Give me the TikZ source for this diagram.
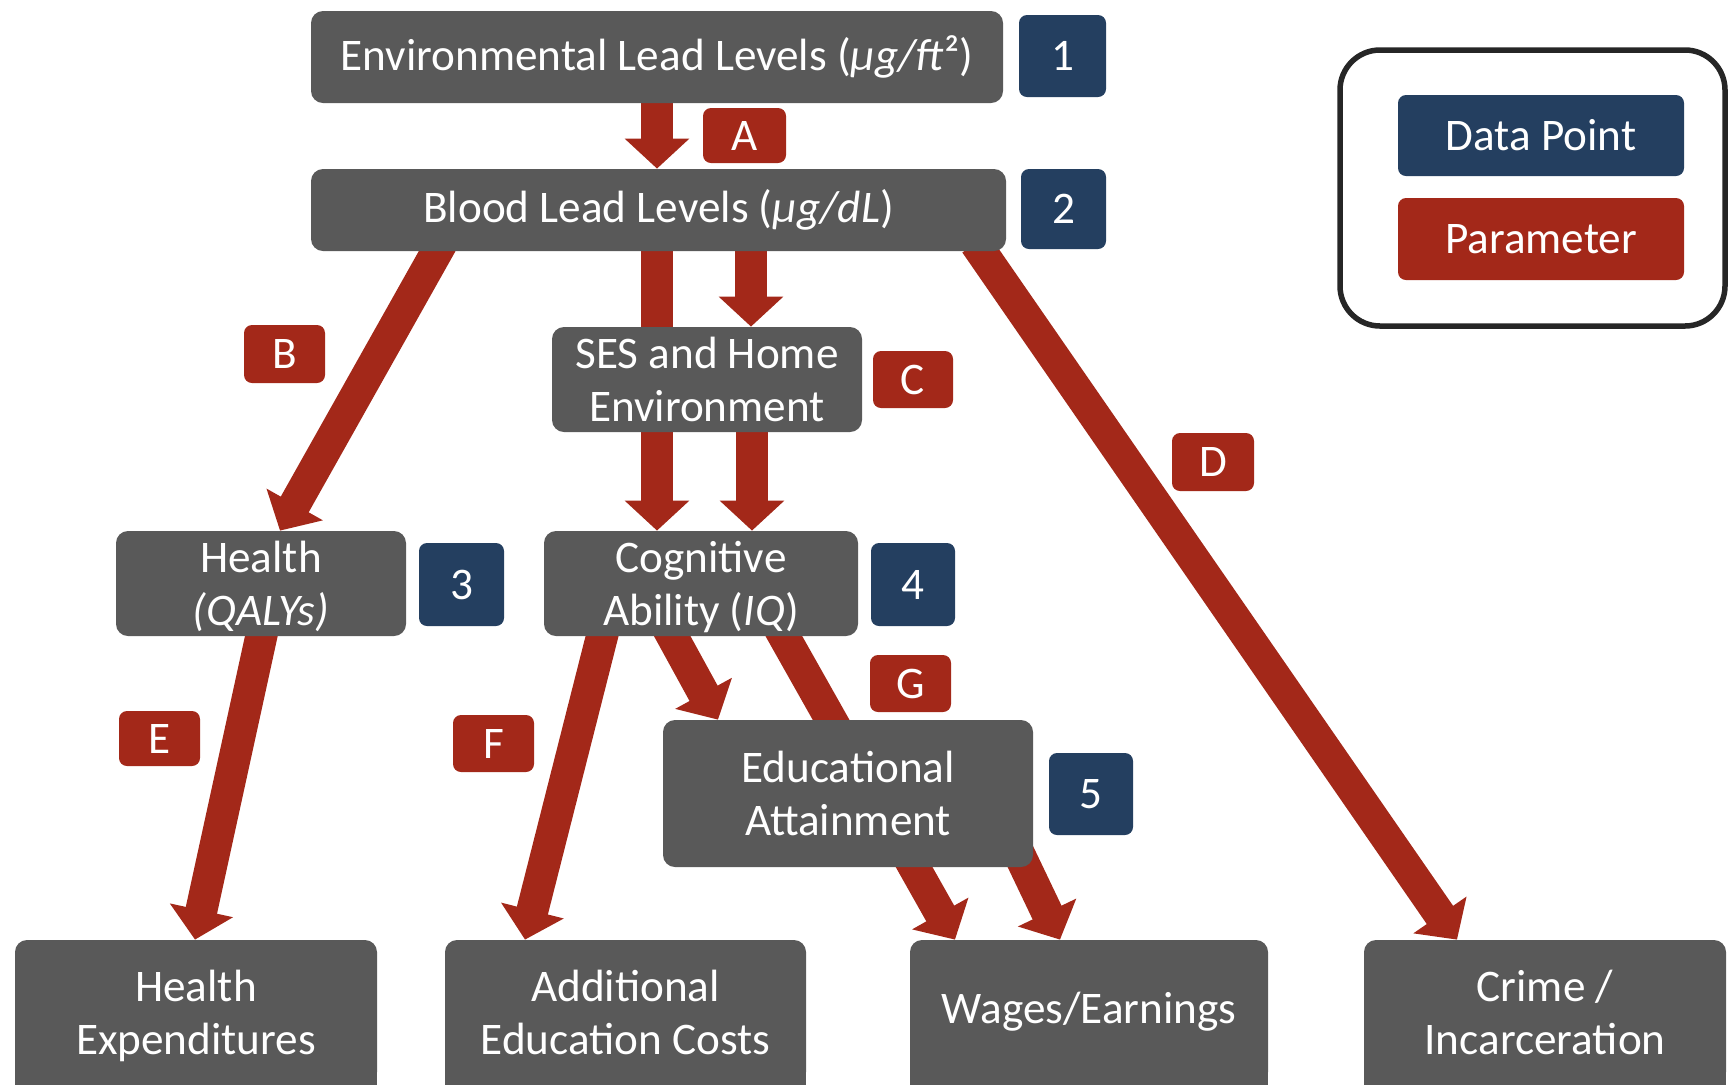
\documentclass[tikz,border=0pt]{standalone}
\usepackage{fontspec}
\setmainfont{Carlito}
\usepackage{tikz}
\usetikzlibrary{arrows.meta,calc,backgrounds}
\definecolor{boxgrey}{HTML}{595959}
\definecolor{datablue}{HTML}{243F60}
\definecolor{parred}{HTML}{A32819}

\begin{document}
\begin{tikzpicture}[
  x=0.5pt, y=-0.5pt,
  every node/.style={text=white, font=\fontsize{22.6}{26.5}\selectfont, align=center, inner sep=0pt},
  outcome/.style={fill=boxgrey, rounded corners=6pt},
  datapt/.style={fill=datablue, rounded corners=4pt},
  param/.style={fill=parred, rounded corners=4pt},
  bigarrow/.style={draw=parred, line width=16pt, -{Triangle[width=31.5pt,length=15pt]}}
]
\useasboundingbox (0,0) rectangle (1729,1084);

% main boxes
\node[outcome, minimum width=346pt, minimum height=46pt] (env) at (657,57) {Environmental Lead Levels (\textit{μg/ft}²)};
\node[outcome, minimum width=347.5pt, minimum height=41pt] (blood) at (658.5,210) {Blood Lead Levels (\textit{μg/dL})};
\node[outcome, minimum width=155pt, minimum height=52.5pt] (ses) at (707,379.5) {SES and Home\\Environment};
\node[outcome, minimum width=145pt, minimum height=52.5pt] (health) at (261,583.5) {Health\\\smash{\textit{(QALYs)}}};
\node[outcome, minimum width=157pt, minimum height=52.5pt] (cog) at (701,583.5) {Cognitive\\\smash{Ability (\textit{IQ})}};
\node[outcome, minimum width=185pt, minimum height=73.5pt] (edu) at (848,793.5) {Educational\\Attainment};
\node[outcome, minimum width=181pt, minimum height=72pt] (hexp) at (196,1012) {Health\\\smash{Expenditures}};
\node[outcome, minimum width=180.5pt, minimum height=72pt] (added) at (625.5,1012) {Additional\\Education Costs};
\node[outcome, minimum width=179pt, minimum height=72pt] (wages) at (1089,1012) {Wages/Earnings};
\node[outcome, minimum width=181pt, minimum height=72pt] (crime) at (1545,1012) {Crime /\\Incarceration};

% data points
\node[datapt, minimum width=43.5pt, minimum height=41pt] (d1) at (1062.5,56) {1};
\node[datapt, minimum width=42.5pt, minimum height=40pt] (d2) at (1063.5,209) {2};
\node[datapt, minimum width=42.5pt, minimum height=41.5pt] (d3) at (461.5,584.5) {3};
\node[datapt, minimum width=42pt, minimum height=41.5pt] (d4) at (913,584.5) {4};
\node[datapt, minimum width=42pt, minimum height=41pt] (d5) at (1091,794) {5};

% parameters
\node[param, minimum width=41.5pt, minimum height=27.5pt] (pA) at (744.5,135.5) {A};
\node[param, minimum width=40.5pt, minimum height=29pt] (pB) at (284.5,354) {B};
\node[param, minimum width=40pt, minimum height=28.5pt] (pC) at (913,379.5) {C};
\node[param, minimum width=41pt, minimum height=29pt] (pD) at (1213,462) {D};
\node[param, minimum width=40.5pt, minimum height=27.5pt] (pE) at (159.5,738.5) {E};
\node[param, minimum width=40.5pt, minimum height=28.5pt] (pF) at (493.5,743.5) {F};
\node[param, minimum width=40.5pt, minimum height=28.5pt] (pG) at (910.5,683.5) {G};

% legend
\node[draw=black!85, line width=2.75pt, rounded corners=20pt, minimum width=192.5pt, minimum height=138pt] (legend) at (1532.5,188) {};
\node[datapt, minimum width=143pt, minimum height=40.5pt] (legdata) at (1541,135.5) {Data Point};
\node[param, minimum width=143pt, minimum height=41pt] (legpar) at (1541,239) {Parameter};

\begin{scope}[on background layer]
  \foreach \n in {hexp,added,wages,crime}
    \fill[boxgrey] (\n.west) rectangle ($(\n.south east)+(0,40)$);
  \draw[bigarrow] ($(env.south)+(0,-8)$) -- (env.south |- blood.north);
  \draw[bigarrow] ($(blood.south)+(-217,-8)$) -- ($(health.north)+(19,0)$);
  \draw[bigarrow] ($(blood.south)+(-1.5,-8)$) -- ($(cog.north)+(-44,0)$);
  \draw[bigarrow] ($(blood.south)+(92.5,-8)$) -- ($(ses.north)+(44,0)$);
  \draw[bigarrow] ($(ses.south)+(45,-8)$) -- ($(cog.north)+(51,0)$);
  \draw[bigarrow] ($(blood.south)+(317,-8)$) -- ($(crime.north)+(-88,0)$);
  \draw[bigarrow] ($(health.south)+(2,-8)$) -- ($(hexp.north)+(-1,0)$);
  \draw[bigarrow] ($(cog.south)+(-97,-8)$) -- ($(added.north)+(-100.5,0)$);
  \draw[bigarrow] ($(cog.south)+(-33,-8)$) -- ($(edu.north)+(-130,0)$);
  \draw[bigarrow] ($(cog.south)+(78.5,-8)$) -- ($(wages.north)+(-134,0)$);
  \draw[bigarrow] ($(edu.south)+(167,-22)$) -- ($(wages.north)+(-29,0)$);
\end{scope}
\end{tikzpicture}
\end{document}
